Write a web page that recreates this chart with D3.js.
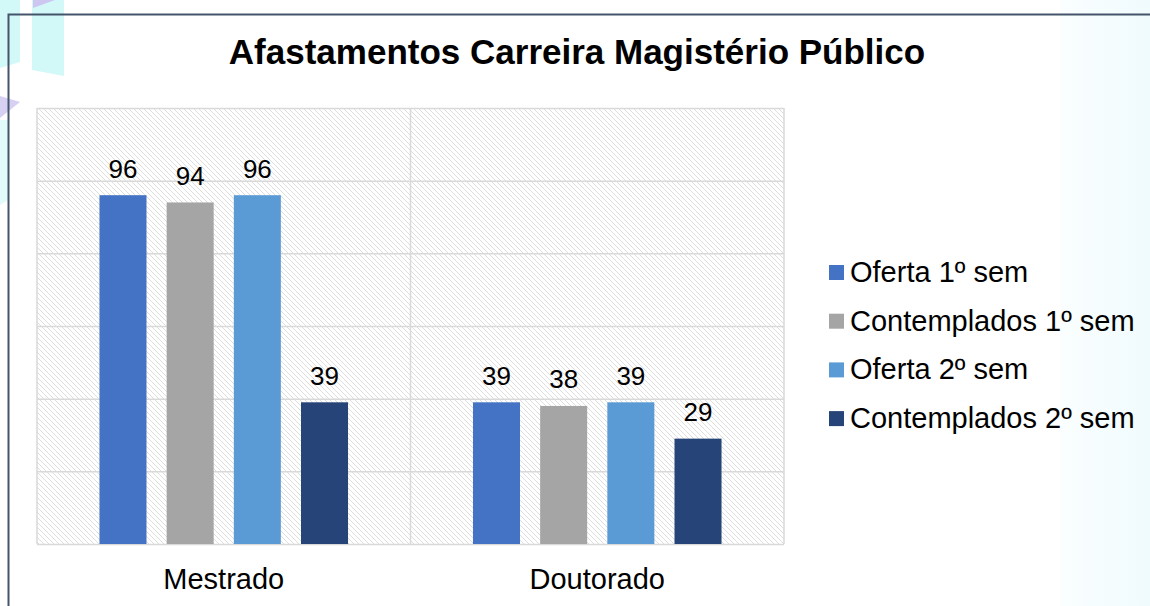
<!doctype html>
<html>
  <head>
    <meta charset="utf-8">
    <title>Afastamentos Carreira Magistério Público</title>
    <script src="https://d3js.org/d3.v7.min.js"></script>
    <style>
      html, body { margin: 0; padding: 0; background: #fff; }
      svg { display: block; font-family: "Liberation Sans", Arial, sans-serif; }
    </style>
  </head>
  <body>
    <div id="chart"></div>
    <script>
      var categories = ['Mestrado', 'Doutorado'];
      var series = ['Oferta 1º sem', 'Contemplados 1º sem', 'Oferta 2º sem', 'Contemplados 2º sem'];
      var oferta1 = [96, 39];
      var contemplados1 = [94, 38];
      var oferta2 = [96, 39];
      var contemplados2 = [39, 29];
      var yTicks = [0, 20, 40, 60, 80, 100, 120];

      var values = [oferta1, contemplados1, oferta2, contemplados2];
      var colors = ['#4472C4', '#A5A5A5', '#5B9BD5', '#264478'];

      var width = 1150, height = 606;
      var plot = { left: 37, top: 108, right: 784, bottom: 544 };

      var svg = d3.select('#chart').append('svg')
        .attr('width', width)
        .attr('height', height);

      var defs = svg.append('defs');
      var hatch = defs.append('pattern')
        .attr('id', 'hatch')
        .attr('patternUnits', 'userSpaceOnUse')
        .attr('width', 5)
        .attr('height', 5);
      hatch.append('rect').attr('width', 5).attr('height', 5).attr('fill', '#fff');
      hatch.append('path')
        .attr('d', 'M-1,-1 L6,6 M-1,4 L1,6 M4,-1 L6,1')
        .attr('stroke', '#dadada')
        .attr('stroke-width', 0.9);

      var grad = defs.append('linearGradient').attr('id', 'rightfade')
        .attr('x1', 0).attr('x2', 1).attr('y1', 0).attr('y2', 0);
      grad.append('stop').attr('offset', 0).attr('stop-color', '#fafeff');
      grad.append('stop').attr('offset', 1).attr('stop-color', '#f0fbfd');

      // slide background decoration
      var bg = svg.append('g');
      bg.append('rect').attr('x', 1060).attr('y', 0).attr('width', 90).attr('height', height)
        .attr('fill', 'url(#rightfade)');
      bg.append('polygon').attr('points', '0,0 20,0 20,62 0,68').attr('fill', '#d3f8f8');
      bg.append('polygon').attr('points', '32,0 64,0 64,76 32,70').attr('fill', '#d3f8f8');
      bg.append('polygon').attr('points', '33,0 55,0 33,8').attr('fill', '#cdc6f1');
      bg.append('polygon').attr('points', '0,96 20,102 0,118').attr('fill', '#d6d0f3');
      bg.append('polygon').attr('points', '0,120 8,120 8,200 0,205').attr('fill', '#e3fafa');

      // frame
      svg.append('path')
        .attr('d', 'M8.5,' + height + ' V14.5 H' + width)
        .attr('fill', 'none')
        .attr('stroke', '#44546A')
        .attr('stroke-width', 2);

      var x0 = d3.scaleBand()
        .domain(categories)
        .range([plot.left, plot.right]);

      var x1 = d3.scaleBand()
        .domain(series)
        .range([0, x0.bandwidth()])
        .paddingInner(0.3)
        .paddingOuter(0.93);

      var y = d3.scaleLinear()
        .domain([yTicks[0], yTicks[yTicks.length - 1]])
        .range([plot.bottom, plot.top]);

      // plot area
      svg.append('rect')
        .attr('x', plot.left).attr('y', plot.top)
        .attr('width', plot.right - plot.left).attr('height', plot.bottom - plot.top)
        .attr('fill', 'url(#hatch)');

      var grid = svg.append('g')
        .attr('transform', 'translate(' + plot.left + ',0)')
        .call(d3.axisLeft(y).tickValues(yTicks).tickSize(-(plot.right - plot.left)).tickFormat(''));
      grid.select('.domain').remove();
      grid.selectAll('line').attr('stroke', '#d9d9d9').attr('stroke-width', 1.5);

      // category dividers and side borders
      svg.append('g').selectAll('line')
        .data(categories.concat(['end']))
        .join('line')
        .attr('x1', function(d, i) { return i < categories.length ? x0(d) : plot.right; })
        .attr('x2', function(d, i) { return i < categories.length ? x0(d) : plot.right; })
        .attr('y1', plot.top).attr('y2', plot.bottom)
        .attr('stroke', '#d9d9d9').attr('stroke-width', 1.5);

      // title
      svg.append('text')
        .attr('x', 577).attr('y', 64)
        .attr('text-anchor', 'middle')
        .attr('font-size', 35).attr('font-weight', 'bold')
        .attr('fill', '#000')
        .text('Afastamentos Carreira Magistério Público');

      // bars
      var groups = svg.append('g').selectAll('g')
        .data(categories)
        .join('g')
        .attr('transform', function(d) { return 'translate(' + x0(d) + ',0)'; });

      groups.selectAll('rect')
        .data(function(d, ci) { return series.map(function(s, si) { return { s: s, si: si, v: values[si][ci] }; }); })
        .join('rect')
        .attr('x', function(d) { return x1(d.s); })
        .attr('y', function(d) { return y(d.v); })
        .attr('width', x1.bandwidth())
        .attr('height', function(d) { return y(0) - y(d.v); })
        .attr('fill', function(d) { return colors[d.si]; });

      groups.selectAll('text')
        .data(function(d, ci) { return series.map(function(s, si) { return { s: s, si: si, v: values[si][ci] }; }); })
        .join('text')
        .attr('x', function(d) { return x1(d.s) + x1.bandwidth() / 2; })
        .attr('y', function(d) { return y(d.v) - 17.5; })
        .attr('text-anchor', 'middle')
        .attr('font-size', 26)
        .attr('fill', '#000')
        .text(function(d) { return d.v; });

      // category labels
      svg.append('g').selectAll('text')
        .data(categories)
        .join('text')
        .attr('x', function(d) { return x0(d) + x0.bandwidth() / 2; })
        .attr('y', 589)
        .attr('text-anchor', 'middle')
        .attr('font-size', 29)
        .attr('fill', '#000')
        .text(function(d) { return d; });

      // legend
      var legend = svg.append('g').selectAll('g')
        .data(series)
        .join('g')
        .attr('transform', function(d, i) { return 'translate(829,' + (282 + i * 48.7) + ')'; });
      legend.append('rect')
        .attr('x', 0).attr('y', -17)
        .attr('width', 15).attr('height', 15)
        .attr('fill', function(d, i) { return colors[i]; });
      legend.append('text')
        .attr('x', 21).attr('y', 0)
        .attr('font-size', 29)
        .attr('fill', '#000')
        .text(function(d) { return d; });
    </script>
  </body>
</html>
